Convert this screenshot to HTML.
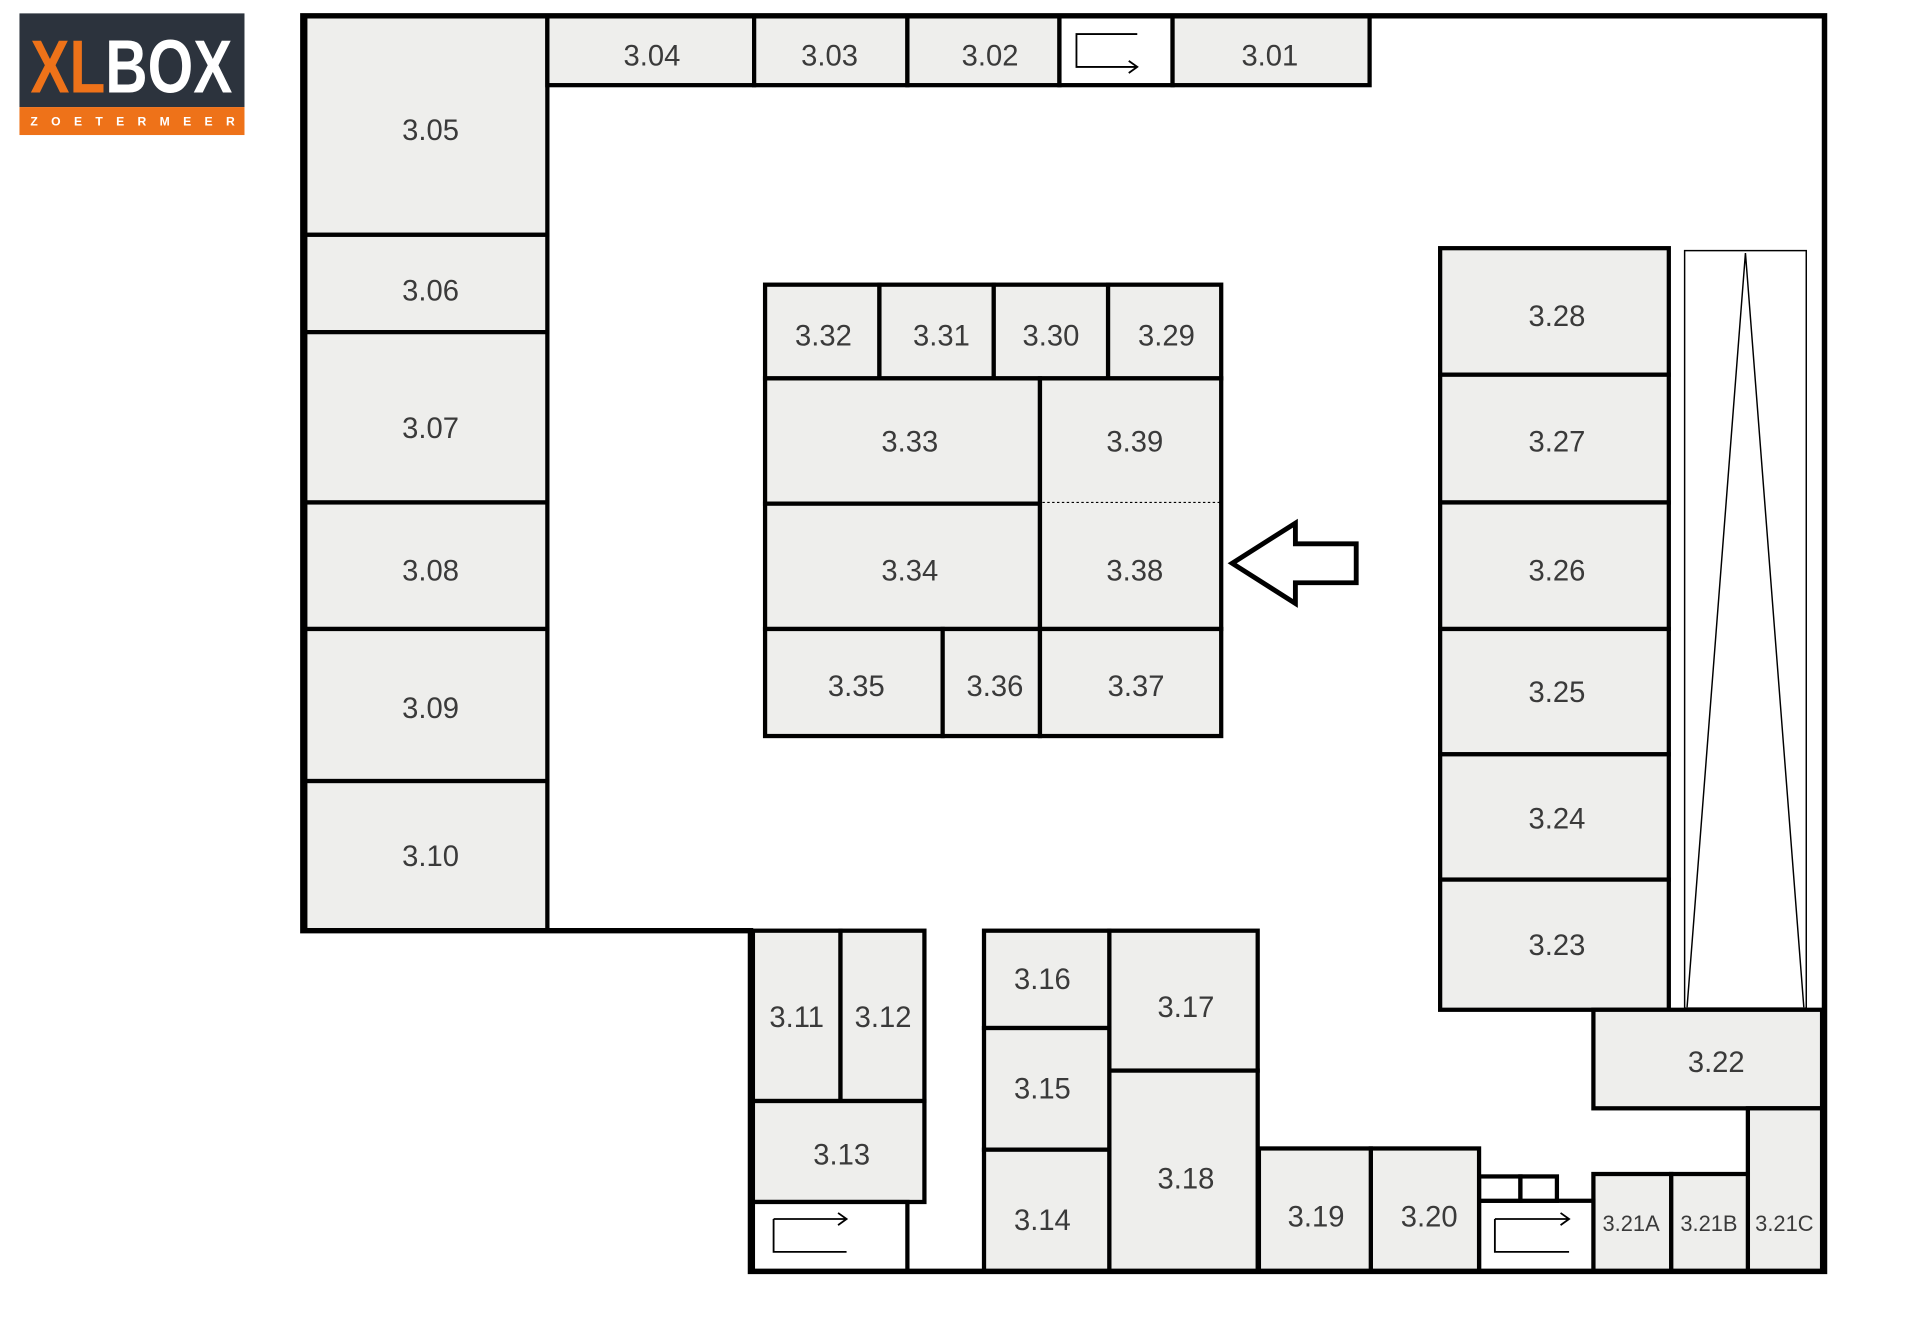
<!DOCTYPE html>
<html><head><meta charset="utf-8"><style>
html,body{margin:0;padding:0;background:#fff;}
svg{display:block;}
text{font-family:"Liberation Sans",sans-serif;fill:#3a3a3a;}
</style></head><body>
<svg width="1906" height="1320" viewBox="0 0 1567 1085" preserveAspectRatio="none" xmlns="http://www.w3.org/2000/svg">
<rect x="0" y="0" width="1567" height="1085" fill="#fff"/>
<!-- logo -->
<rect x="16" y="11" width="185" height="77" fill="#2c333d"/>
<rect x="16" y="88" width="185" height="23" fill="#ee7219"/>
<text x="25" y="76" font-size="62" font-weight="bold" textLength="166" lengthAdjust="spacingAndGlyphs" style="font-family:'Liberation Sans Narrow','Liberation Sans',sans-serif"><tspan fill="#ee7219" style="fill:#ee7219">XL</tspan><tspan style="fill:#fff">BOX</tspan></text>
<text x="25" y="103" font-size="10" font-weight="bold" textLength="168" lengthAdjust="spacing" style="fill:#fff">ZOETERMEER</text>

<g stroke="#000" stroke-width="3.5" fill="#eeeeec">
<!-- left column -->
<rect x="251" y="13" width="199" height="180"/>
<rect x="251" y="193" width="199" height="80"/>
<rect x="251" y="273" width="199" height="140"/>
<rect x="251" y="413" width="199" height="104"/>
<rect x="251" y="517" width="199" height="125"/>
<rect x="251" y="642" width="199" height="123"/>
<!-- top row -->
<rect x="450" y="13" width="170" height="57"/>
<rect x="620" y="13" width="126" height="57"/>
<rect x="746" y="13" width="125" height="57"/>
<rect x="871" y="13" width="93" height="57" fill="#fff"/>
<rect x="964" y="13" width="162" height="57"/>
<!-- center -->
<rect x="629" y="234" width="94" height="77"/>
<rect x="723" y="234" width="94" height="77"/>
<rect x="817" y="234" width="94" height="77"/>
<rect x="911" y="234" width="93" height="77"/>
<rect x="629" y="311" width="226" height="103"/>
<rect x="629" y="414" width="226" height="103"/>
<rect x="855" y="311" width="149" height="206"/>
<rect x="629" y="517" width="146" height="88"/>
<rect x="775" y="517" width="80" height="88"/>
<rect x="855" y="517" width="149" height="88"/>
<!-- right column -->
<rect x="1184" y="204" width="188" height="104"/>
<rect x="1184" y="308" width="188" height="105"/>
<rect x="1184" y="413" width="188" height="104"/>
<rect x="1184" y="517" width="188" height="103"/>
<rect x="1184" y="620" width="188" height="103"/>
<rect x="1184" y="723" width="188" height="107"/>
<!-- bottom right -->
<rect x="1310" y="830" width="188" height="81"/>
<rect x="1437" y="911" width="61" height="134"/>
<rect x="1310" y="965" width="64" height="80"/>
<rect x="1374" y="965" width="63" height="80"/>
<rect x="1216" y="987" width="94" height="58" fill="#fff"/>
<rect x="1216" y="967" width="34" height="20" fill="#fff"/>
<rect x="1250" y="967" width="30" height="20" fill="#fff"/>
<rect x="1127" y="944" width="89" height="101"/>
<rect x="1035" y="944" width="92" height="101"/>
<!-- bottom middle -->
<rect x="912" y="765" width="122" height="115"/>
<rect x="912" y="880" width="122" height="165"/>
<rect x="809" y="765" width="103" height="80"/>
<rect x="809" y="845" width="103" height="100"/>
<rect x="809" y="945" width="103" height="100"/>
<!-- bottom left -->
<rect x="619" y="765" width="72" height="140"/>
<rect x="691" y="765" width="69" height="140"/>
<rect x="619" y="905" width="141" height="83"/>
<rect x="619" y="988" width="127" height="57" fill="#fff"/>
</g>
<line x1="857" y1="413" x2="1003" y2="413" stroke="#000" stroke-width="1" stroke-dasharray="2,2"/>
<!-- outer wall -->
<path d="M249,13 H1500 V1045 H617 V765 H249 Z" fill="none" stroke="#000" stroke-width="4.5"/>
<!-- ramp -->
<rect x="1385" y="206" width="100" height="624" fill="#fff" stroke="#000" stroke-width="1.2"/>
<path d="M1387,828 L1435,208 L1483,828" fill="none" stroke="#000" stroke-width="1.2"/>
<line x1="1385" y1="829" x2="1485" y2="829" stroke="#000" stroke-width="2"/>
<!-- exit icons -->
<g fill="none" stroke="#000" stroke-width="1.5">
<path d="M935,28 H885 V55 H935 M928,50 L935,55 L928,60"/>
<path d="M636,1002 H695 M636,1002 V1029 H696 M689,997 L696,1002 L689,1007"/>
<path d="M1229,1002 H1290 M1229,1002 V1029 H1290 M1283,997 L1290,1002 L1283,1007"/>
</g>
<!-- big arrow -->
<polygon points="1013,463 1065,430 1065,447 1115,447 1115,479 1065,479 1065,496" fill="#fff" stroke="#000" stroke-width="4" stroke-linejoin="miter"/>
<!-- labels -->
<g font-size="24" text-anchor="middle">
<text x="354" y="115">3.05</text>
<text x="354" y="247">3.06</text>
<text x="354" y="360">3.07</text>
<text x="354" y="477">3.08</text>
<text x="354" y="590">3.09</text>
<text x="354" y="712">3.10</text>
<text x="536" y="54">3.04</text>
<text x="682" y="54">3.03</text>
<text x="814" y="54">3.02</text>
<text x="1044" y="54">3.01</text>
<text x="677" y="284">3.32</text>
<text x="774" y="284">3.31</text>
<text x="864" y="284">3.30</text>
<text x="959" y="284">3.29</text>
<text x="748" y="371">3.33</text>
<text x="933" y="371">3.39</text>
<text x="748" y="477">3.34</text>
<text x="933" y="477">3.38</text>
<text x="704" y="572">3.35</text>
<text x="818" y="572">3.36</text>
<text x="934" y="572">3.37</text>
<text x="1280" y="268">3.28</text>
<text x="1280" y="371">3.27</text>
<text x="1280" y="477">3.26</text>
<text x="1280" y="577">3.25</text>
<text x="1280" y="681">3.24</text>
<text x="1280" y="785">3.23</text>
<text x="1411" y="881">3.22</text>
<text x="1175" y="1008">3.20</text>
<text x="1082" y="1008">3.19</text>
<text x="975" y="836">3.17</text>
<text x="975" y="977">3.18</text>
<text x="857" y="813">3.16</text>
<text x="857" y="903">3.15</text>
<text x="857" y="1011">3.14</text>
<text x="655" y="844">3.11</text>
<text x="726" y="844">3.12</text>
<text x="692" y="957">3.13</text>
</g>
<g font-size="18" text-anchor="middle">
<text x="1341" y="1012">3.21A</text>
<text x="1405" y="1012">3.21B</text>
<text x="1467" y="1012">3.21C</text>
</g>
</svg>
</body></html>
